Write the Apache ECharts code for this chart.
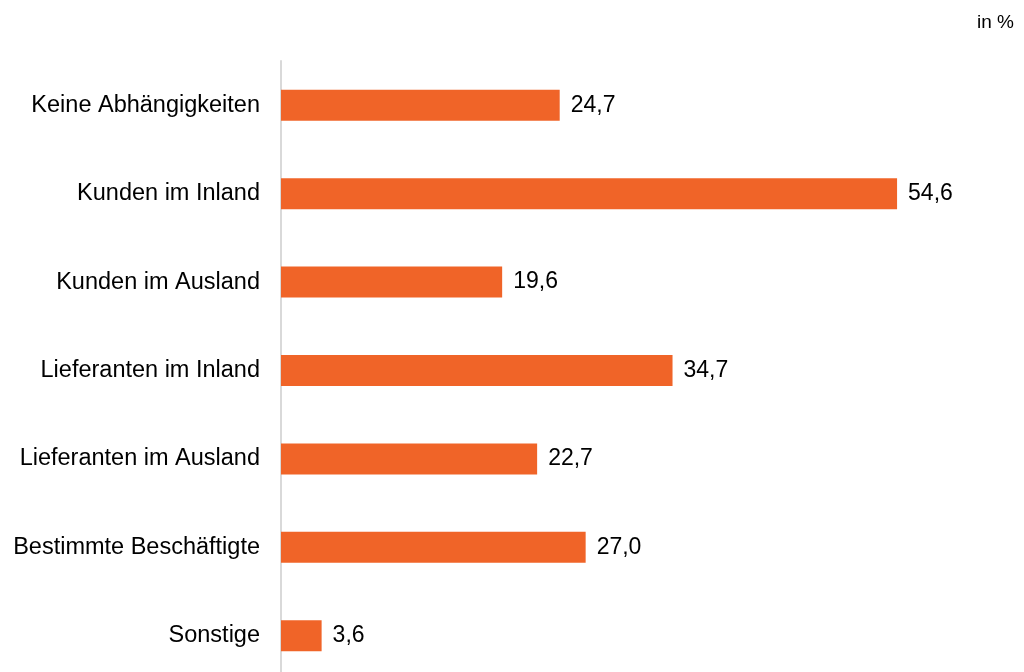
<!DOCTYPE html>
<html>
<head>
<meta charset="utf-8">
<script src="https://cdn.jsdelivr.net/npm/echarts@6/dist/echarts.min.js"></script>
<style>
  html, body { margin: 0; padding: 0; background: #fff; }
  #chart { width: 1024px; height: 672px; }
</style>
</head>
<body>
<div id="chart"></div>
<script>
const categories = [
  'Keine Abhängigkeiten',
  'Kunden im Inland',
  'Kunden im Ausland',
  'Lieferanten im Inland',
  'Lieferanten im Ausland',
  'Bestimmte Beschäftigte',
  'Sonstige'
];
const values = [24.7, 54.6, 19.6, 34.7, 22.7, 27.0, 3.6];
const unitLabel = 'in %';

const chart = echarts.init(document.getElementById('chart'));

const FONT = '"Liberation Sans", Arial, sans-serif';

const option = {
  animation: false,
  textStyle: { fontFamily: FONT },
  title: {
    text: unitLabel,
    right: 5,
    top: 8,
    textStyle: { fontFamily: FONT, fontSize: 19, fontWeight: 'normal', color: '#000' }
  },
  grid: { left: 281, top: 61, width: 677, height: 619, outerBoundsMode: 'none' },
  xAxis: {
    type: 'value',
    min: 0,
    max: 60,
    show: false
  },
  yAxis: {
    type: 'category',
    data: categories,
    inverse: true,
    axisLine: { show: true, lineStyle: { color: '#d9d9d9', width: 2 } },
    axisTick: { show: false },
    axisLabel: { color: '#000', fontSize: 23.5, margin: 21, fontFamily: FONT }
  },
  series: [
    {
      type: 'bar',
      data: values,
      barWidth: 31,
      itemStyle: { color: '#f06428' },
      label: {
        show: true,
        position: 'right',
        distance: 11,
        color: '#000',
        fontSize: 23,
        fontFamily: FONT,
        formatter: (p) => p.value.toFixed(1).replace('.', ',')
      }
    }
  ]
};

chart.setOption(option);
</script>
</body>
</html>
